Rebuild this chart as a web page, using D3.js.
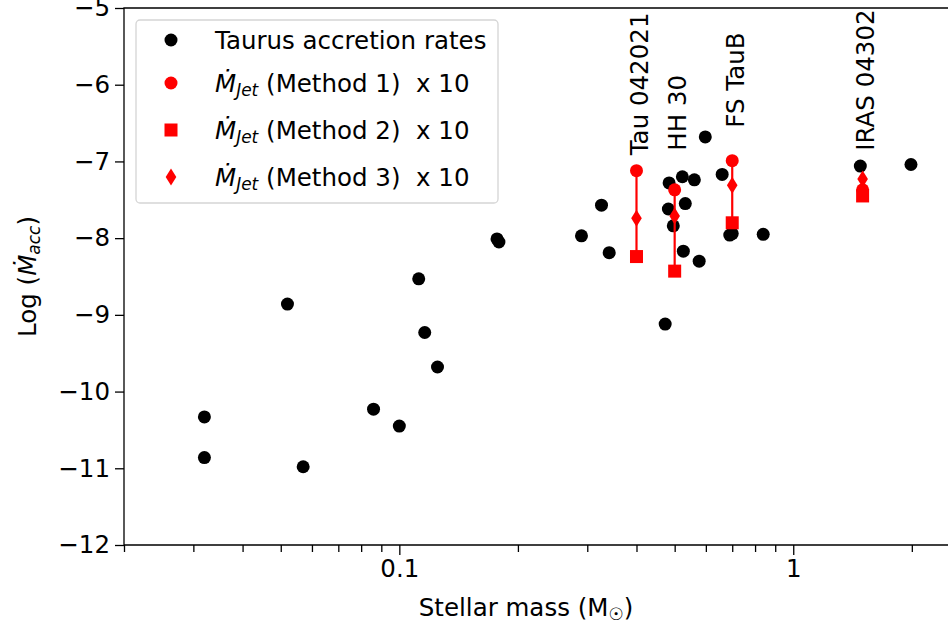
<!DOCTYPE html>
<html>
<head>
<meta charset="utf-8">
<script src="https://cdn.jsdelivr.net/npm/d3@7"></script>
<style>
  body { margin: 0; background: #fff; }
  text { font-family: "DejaVu Sans", sans-serif; fill: #000; }
</style>
</head>
<body>
<div id="container"></div>
<script>
/** CONSTANTS AND GLOBALS */
const width = 948,
  height = 628,
  margin = { top: 8, bottom: 83, left: 124, right: -2 };

const fontSize = 24.5;
const subSize = 17;

/** DATA */
// Taurus accretion rates (black dots)
const taurusMass = [0.032, 0.032, 0.052, 0.057, 0.086, 0.1, 0.112, 0.116, 0.125,
  0.177, 0.179, 0.29, 0.326, 0.341, 0.473, 0.484, 0.523, 0.561, 0.482, 0.532,
  0.496, 0.526, 0.577, 0.598, 0.66, 0.69, 0.70, 0.839, 1.48, 1.99];
const taurusLogMacc = [-10.33, -10.86, -8.86, -10.98, -10.23, -10.45, -8.53, -9.23, -9.68,
  -8.01, -8.05, -7.97, -7.57, -8.19, -9.12, -7.28, -7.2, -7.24, -7.62, -7.55,
  -7.84, -8.17, -8.3, -6.68, -7.17, -7.96, -7.94, -7.95, -7.06, -7.04];

// jet objects
const jetNames = ["Tau 042021", "HH 30", "FS TauB", "IRAS 04302"];
const jetMass = [0.40, 0.50, 0.70, 1.5];
const jetMethod1 = [-7.12, -7.37, -6.99, -7.37];
const jetMethod2 = [-8.24, -8.43, -7.8, -7.45];
const jetMethod3 = [-7.74, -7.71, -7.31, -7.23];
const jetLabelY = [-6.92, -6.86, -6.56, -6.86];

const xTickValues = [0.1, 1];
const yTickValues = [-12, -11, -10, -9, -8, -7, -6, -5];

let svg;

init();

function init() {
  svg = d3.select("#container")
    .append("svg")
    .attr("width", width)
    .attr("height", height);

  const xScale = d3.scaleLog()
    .domain([0.02, 2.5])
    .range([margin.left, width - margin.right]);

  const yScale = d3.scaleLinear()
    .domain([-12, -5])
    .range([height - margin.bottom, margin.top]);

  // minor ticks 0.02 .. 2
  const minorTicks = xScale.ticks().filter(d => !xTickValues.includes(d));

  const xAxisG = svg.append("g")
    .attr("transform", `translate(0, ${height - margin.bottom})`);

  xAxisG.append("g")
    .call(d3.axisBottom(xScale).tickValues(minorTicks).tickSize(7).tickFormat(""))
    .call(g => g.select(".domain").remove());

  xAxisG.append("g")
    .call(d3.axisBottom(xScale).tickValues(xTickValues).tickSize(10).tickPadding(5)
      .tickFormat(d => d === 1 ? "1" : "0.1"))
    .call(g => g.select(".domain").remove());

  svg.append("g")
    .attr("transform", `translate(${margin.left}, 0)`)
    .call(d3.axisLeft(yScale).tickValues(yTickValues).tickSize(9).tickPadding(5)
      .tickFormat(d => d3.format("d")(d).replace("-", "\u2212")))
    .call(g => g.select(".domain").remove());

  svg.selectAll(".tick line").attr("stroke", "#000").attr("stroke-width", 1.3);
  svg.selectAll(".tick text")
    .style("font-family", "DejaVu Sans")
    .style("font-size", fontSize + "px")
    .attr("fill", "#000");

  // spines
  const [x0, x1] = xScale.range();
  const [y0, y1] = yScale.range();
  svg.append("path")
    .attr("d", `M${x1},${y1}H${x0}V${y0}H${x1}`)
    .attr("fill", "none")
    .attr("stroke", "#000")
    .attr("stroke-width", 1.3);

  // Taurus dots
  svg.append("g")
    .selectAll("circle")
    .data(taurusMass.map((m, i) => ({ m, v: taurusLogMacc[i] })))
    .join("circle")
    .attr("cx", d => xScale(d.m))
    .attr("cy", d => yScale(d.v))
    .attr("r", 6.5)
    .attr("fill", "#000");

  const jets = jetNames.map((name, i) => ({
    name, m: jetMass[i], m1: jetMethod1[i], m2: jetMethod2[i], m3: jetMethod3[i], ly: jetLabelY[i]
  }));

  const jetG = svg.append("g");

  jetG.selectAll("line")
    .data(jets)
    .join("line")
    .attr("x1", d => xScale(d.m))
    .attr("x2", d => xScale(d.m))
    .attr("y1", d => yScale(d.m1))
    .attr("y2", d => yScale(d.m2))
    .attr("stroke", "red")
    .attr("stroke-width", 2.2);

  const diamond = "M0,-8.5L5.3,0L0,8.5L-5.3,0Z";

  jetG.selectAll(".m1")
    .data(jets)
    .join("circle")
    .attr("class", "m1")
    .attr("cx", d => xScale(d.m))
    .attr("cy", d => yScale(d.m1))
    .attr("r", 6.5)
    .attr("fill", "red");

  jetG.selectAll(".m2")
    .data(jets)
    .join("rect")
    .attr("class", "m2")
    .attr("x", d => xScale(d.m) - 6.5)
    .attr("y", d => yScale(d.m2) - 6.5)
    .attr("width", 13)
    .attr("height", 13)
    .attr("fill", "red");

  jetG.selectAll(".m3")
    .data(jets)
    .join("path")
    .attr("class", "m3")
    .attr("d", diamond)
    .attr("transform", d => `translate(${xScale(d.m)}, ${yScale(d.m3)})`)
    .attr("fill", "red");

  // object labels
  svg.append("g")
    .selectAll("text")
    .data(jets)
    .join("text")
    .attr("transform", d => `translate(${xScale(d.m) + 3}, ${yScale(d.ly)}) rotate(-90)`)
    .attr("dy", "0.35em")
    .style("font-size", fontSize + "px")
    .text(d => d.name);

  // axis labels
  const xLabel = svg.append("text")
    .attr("x", (x0 + 948) / 2 - 10)
    .attr("y", 616)
    .attr("text-anchor", "middle")
    .style("font-size", fontSize + "px");
  xLabel.append("tspan").text("Stellar mass (M");
  xLabel.append("tspan").attr("baseline-shift", "-25%").style("font-size", subSize + "px").text("\u2609");
  xLabel.append("tspan").text(")");

  const yLabel = svg.append("text")
    .attr("transform", `translate(36, ${(y0 + y1) / 2}) rotate(-90)`)
    .attr("text-anchor", "middle")
    .style("font-size", fontSize + "px");
  yLabel.append("tspan").text("Log (");
  yLabel.append("tspan").style("font-style", "italic").text("\u1E40");
  yLabel.append("tspan").attr("baseline-shift", "-25%").style("font-style", "italic").style("font-size", subSize + "px").text("acc");
  yLabel.append("tspan").text(")");

  // legend
  const legend = svg.append("g").attr("transform", "translate(136, 20)");
  legend.append("rect")
    .attr("width", 362)
    .attr("height", 183)
    .attr("rx", 4)
    .attr("fill", "#fff")
    .attr("fill-opacity", 0.8)
    .attr("stroke", "#d5d5d5")
    .attr("stroke-width", 1.3);

  const rowY = [20, 63, 110, 157];
  const legendItems = ["taurus", "m1", "m2", "m3"];
  legendItems.forEach((key, i) => {
    const g = legend.append("g").attr("transform", `translate(35, ${rowY[i]})`);
    if (key === "taurus") g.append("circle").attr("r", 6.5).attr("fill", "#000");
    if (key === "m1") g.append("circle").attr("r", 6.5).attr("fill", "red");
    if (key === "m2") g.append("rect").attr("x", -6.5).attr("y", -6.5).attr("width", 13).attr("height", 13).attr("fill", "red");
    if (key === "m3") g.append("path").attr("d", diamond).attr("fill", "red");

    const t = legend.append("text")
      .attr("x", 79)
      .attr("y", rowY[i])
      .attr("dy", "0.36em")
      .style("font-size", fontSize + "px")
      .style("white-space", "pre");
    if (key === "taurus") {
      t.text("Taurus accretion rates");
    } else {
      t.append("tspan").style("font-style", "italic").text("\u1E40");
      t.append("tspan").attr("baseline-shift", "-25%").style("font-style", "italic").style("font-size", subSize + "px").text("Jet");
      t.append("tspan").text(` (Method ${i})  x 10`);
    }
  });
}
</script>
</body>
</html>
